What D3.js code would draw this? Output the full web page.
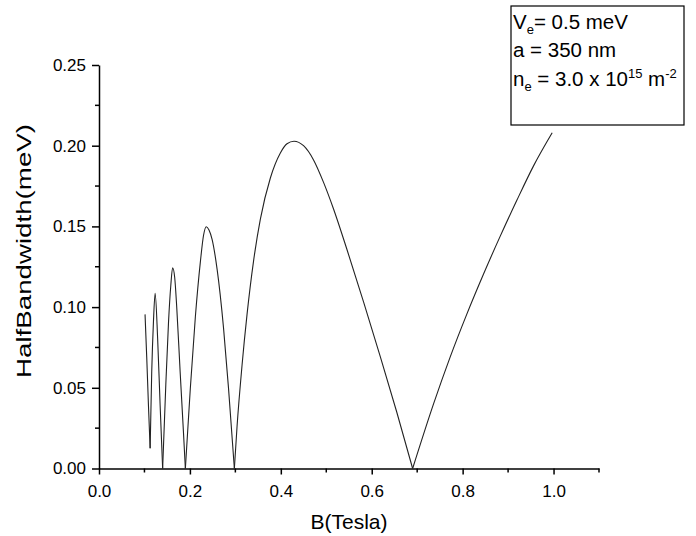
<!DOCTYPE html>
<html>
<head>
<meta charset="utf-8">
<script src="https://cdn.jsdelivr.net/npm/d3@7"></script>
<style>
  html, body { margin: 0; padding: 0; background: #fff; }
  svg { display: block; }
  text { font-family: "Liberation Sans", Arial, sans-serif; fill: #000; }
</style>
</head>
<body>
<svg id="chart" width="696" height="536"></svg>
<script>
// ---- data ----
const fieldB = [
  0.1013, 0.1050, 0.1088, 0.1125, 0.1160, 0.1198, 0.1235, 0.1290, 0.1345, 0.1400,
  0.1470, 0.1530, 0.1580, 0.1620, 0.1665, 0.1710, 0.1785, 0.1857, 0.1900,
  0.2010, 0.2120, 0.2230, 0.2300, 0.2360, 0.2420, 0.2488, 0.2598, 0.2740, 0.2850, 0.2978,
  0.3037, 0.3147, 0.3257, 0.3400, 0.3550, 0.3770, 0.3990, 0.4136, 0.4290, 0.4500,
  0.4720, 0.4940, 0.5160, 0.5455, 0.5820, 0.6190, 0.6550, 0.6900,
  0.7360, 0.7725, 0.8090, 0.8460, 0.8820, 0.9190, 0.9560, 0.9970
];
const halfBandwidth = [
  0.0955, 0.0690, 0.0390, 0.0125, 0.0600, 0.0910, 0.1085, 0.0806, 0.0390, 0.0000,
  0.0520, 0.0910, 0.1135, 0.1244, 0.1185, 0.1000, 0.0600, 0.0230, 0.0000,
  0.0500, 0.0940, 0.1280, 0.1445, 0.1498, 0.1478, 0.1420, 0.1235, 0.0870, 0.0495, 0.0000,
  0.0260, 0.0640, 0.0955, 0.1285, 0.1545, 0.1800, 0.1955, 0.2012, 0.2028, 0.2000,
  0.1912, 0.1773, 0.1608, 0.1357, 0.1032, 0.0692, 0.0350, 0.0000,
  0.0400, 0.0690, 0.0955, 0.1205, 0.1435, 0.1660, 0.1875, 0.2080
];
const xMajorTicks = [0, 0.2, 0.4, 0.6, 0.8, 1.0];
const xMinorTicks = [0.1, 0.3, 0.5, 0.7, 0.9, 1.1];
const yMajorTicks = [0, 0.05, 0.10, 0.15, 0.20, 0.25];
const yMinorTicks = [0.025, 0.075, 0.125, 0.175, 0.225];
const xTitle = "B(Tesla)";
const yTitle = "HalfBandwidth(meV)";

const svg = d3.select("#chart");
const x = d3.scaleLinear().domain([0, 1.1]).range([99, 599]);
const y = d3.scaleLinear().domain([0, 0.25]).range([468.5, 65]);

// ---- axes ----
const gx = svg.append("g").attr("transform", `translate(0,${y(0)})`);
gx.call(d3.axisBottom(x).tickValues(xMajorTicks).tickFormat(d3.format(".1f"))
  .tickSize(6).tickSizeOuter(0).tickPadding(10));
gx.append("g").selectAll("line").data(xMinorTicks).join("line")
  .attr("x1", d => x(d)).attr("x2", d => x(d)).attr("y1", 0).attr("y2", 4)
  .attr("stroke", "#000").attr("stroke-width", 1.5);

const gy = svg.append("g").attr("transform", `translate(${x(0)},0)`);
gy.call(d3.axisLeft(y).tickValues(yMajorTicks).tickFormat(d3.format(".2f"))
  .tickSize(7).tickSizeOuter(0).tickPadding(6));
gy.append("g").selectAll("line").data(yMinorTicks).join("line")
  .attr("y1", d => y(d)).attr("y2", d => y(d)).attr("x1", 0).attr("x2", -4)
  .attr("stroke", "#000").attr("stroke-width", 1.5);

svg.selectAll(".domain").attr("stroke", "#000").attr("stroke-width", 1.5);
svg.selectAll(".tick line").attr("stroke", "#000").attr("stroke-width", 1.5);
svg.selectAll(".tick text").attr("font-size", 17).attr("fill", "#000")
  .style("font-family", '"Liberation Sans", Arial, sans-serif');

// ---- titles ----
svg.append("text").attr("x", 349).attr("y", 529).attr("text-anchor", "middle")
  .attr("font-size", 21).text(xTitle);
svg.append("text").attr("transform", "translate(31,251) rotate(-90)")
  .attr("text-anchor", "middle").attr("font-size", 21)
  .attr("textLength", 254).attr("lengthAdjust", "spacingAndGlyphs").text(yTitle);

// ---- curve: split at local minima, each arc drawn smoothly ----
const pts = fieldB.map((b, i) => [b, halfBandwidth[i]]);
const segments = [];
let cur = [pts[0]];
for (let i = 1; i < pts.length; i++) {
  cur.push(pts[i]);
  const isMin = i < pts.length - 1 && pts[i][1] <= pts[i - 1][1] && pts[i][1] <= pts[i + 1][1];
  if (isMin) { segments.push(cur); cur = [pts[i]]; }
}
segments.push(cur);
const line = d3.line().x(d => x(d[0])).y(d => y(d[1])).curve(d3.curveMonotoneX);
svg.append("g").selectAll("path").data(segments).join("path")
  .attr("d", line).attr("fill", "none").attr("stroke", "#222").attr("stroke-width", 1.1);

// ---- parameter box ----
svg.append("rect").attr("x", 511).attr("y", 6).attr("width", 173).attr("height", 119)
  .attr("fill", "#fff").attr("stroke", "#000").attr("stroke-width", 1.2);
const fs = 20.5, small = 13;
const t1 = svg.append("text").attr("x", 513).attr("y", 29).attr("font-size", fs);
t1.append("tspan").text("V");
t1.append("tspan").attr("font-size", small).attr("dy", 5).text("e");
t1.append("tspan").attr("dy", -5).text("= 0.5 meV");
svg.append("text").attr("x", 513).attr("y", 57).attr("font-size", fs).text("a = 350 nm");
const t3 = svg.append("text").attr("x", 513).attr("y", 85.5).attr("font-size", fs);
t3.append("tspan").text("n");
t3.append("tspan").attr("font-size", small).attr("dy", 5).text("e");
t3.append("tspan").attr("dy", -5).text(" = 3.0 x 10");
t3.append("tspan").attr("font-size", small).attr("dy", -8).text("15");
t3.append("tspan").attr("dy", 8).text(" m");
t3.append("tspan").attr("font-size", small).attr("dy", -8).text("-2");
</script>
</body>
</html>
